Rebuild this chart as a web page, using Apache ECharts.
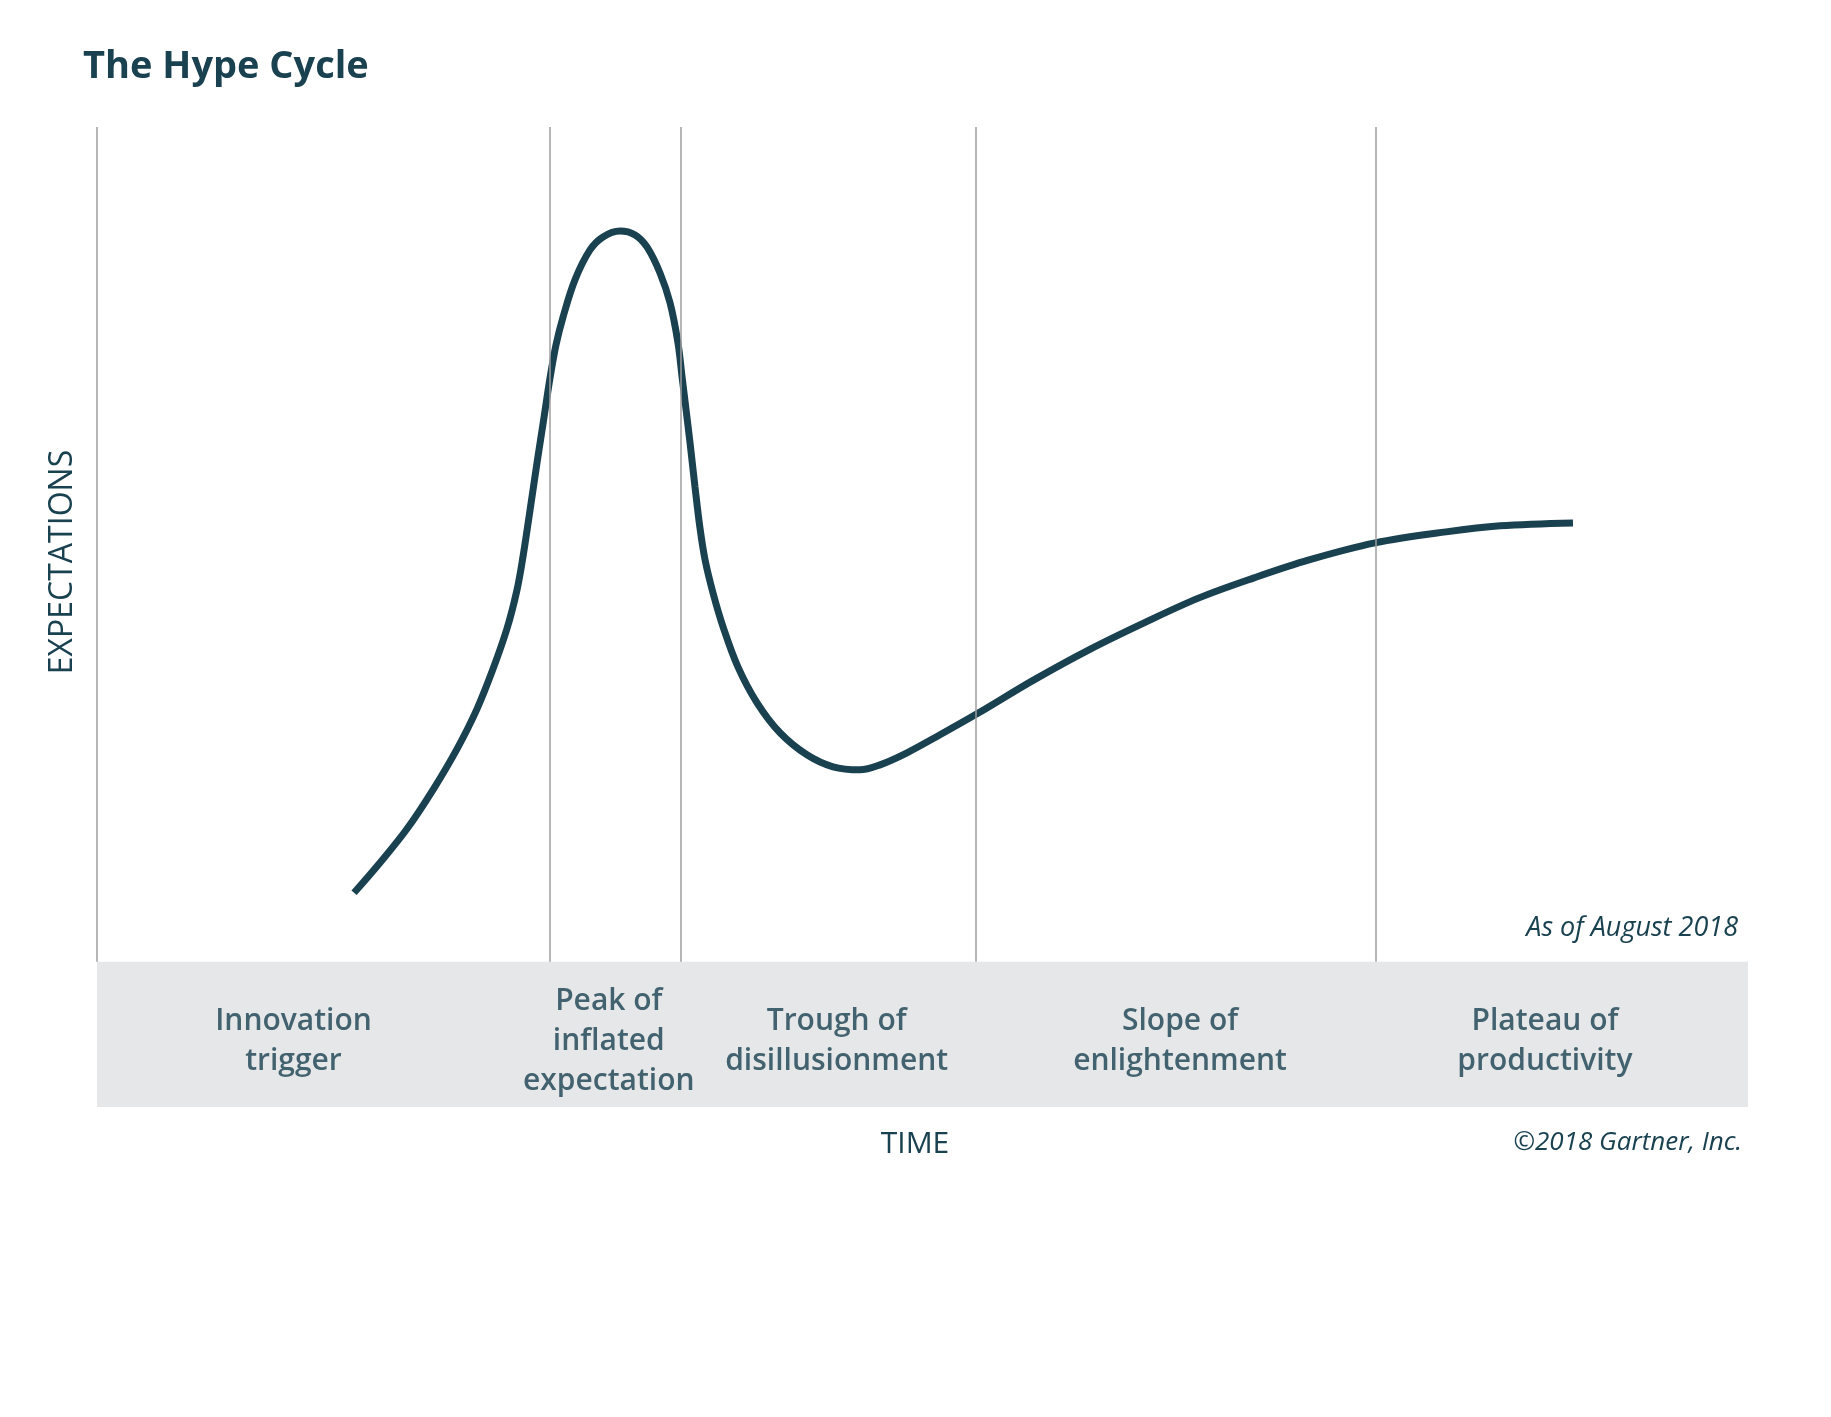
<!DOCTYPE html>
<html>
<head>
<meta charset="utf-8">
<title>The Hype Cycle</title>
<script src="https://cdn.jsdelivr.net/npm/echarts@6/dist/echarts.min.js"></script>
<style>
  html, body { margin: 0; padding: 0; background: #fff; }
  #hype_chart { width: 1831px; height: 1417px; }
</style>
</head>
<body>
<div id="hype_chart"></div>
<script>
// time runs 0..100 across the plot, expectations 0..100 from the top of the phase band up
var curveX = [15.57, 17.14, 18.78, 20.35, 21.81, 23.02, 23.99, 24.83, 25.44, 25.80,
              26.23, 26.65, 27.07, 27.44, 27.80, 28.23, 28.95, 29.86, 30.65, 31.68,
              32.59, 33.31, 34.10, 34.71, 35.19, 35.43, 35.68, 35.92, 36.22, 36.52,
              36.83, 37.31, 37.92, 38.82, 39.98, 41.37, 43.00, 44.58, 46.21, 47.43,
              49.06, 51.06, 53.30, 56.75, 60.08, 63.42, 66.75, 70.08, 73.41, 77.41,
              81.71, 84.98, 89.40];
var curveY = [8.26, 11.86, 15.93, 20.60, 25.51, 30.30, 35.09, 39.88, 44.55, 48.50,
              54.13, 59.76, 65.15, 69.94, 73.89, 77.25, 81.68, 85.27, 86.83, 87.54,
              87.07, 85.63, 82.51, 78.92, 74.13, 70.18, 66.11, 62.16, 56.89, 51.98,
              48.14, 44.19, 40.12, 35.33, 31.02, 27.43, 24.79, 23.35, 22.99, 23.59,
              25.03, 27.19, 29.70, 33.77, 37.37, 40.60, 43.59, 45.99, 48.14, 50.18,
              51.50, 52.22, 52.57];

var phaseNames = ['Innovation\ntrigger', 'Peak of\ninflated\nexpectation',
                  'Trough of\ndisillusionment', 'Slope of\nenlightenment', 'Plateau of\nproductivity'];
var phaseLabelX = [11.9, 31.0, 44.8, 65.6, 87.7];
var phaseBounds = [0, 27.44, 35.37, 53.24, 77.47];
var bandBottom = -17.4;
var labelY = -9.5;

var ink = '#1a4150';
var font = '"Open Sans", "Noto Sans", sans-serif';

var chart = echarts.init(document.getElementById('hype_chart'));

var curveData = [];
for (var i = 0; i < curveX.length; i++) curveData.push([curveX[i], curveY[i]]);

var boundLines = [];
for (var j = 0; j < phaseBounds.length; j++) {
  boundLines.push([{ coord: [phaseBounds[j], 0] }, { coord: [phaseBounds[j], 100] }]);
}

var phaseData = [];
for (var k = 0; k < phaseNames.length; k++) {
  phaseData.push({ name: phaseNames[k], value: [phaseLabelX[k], labelY] });
}

var option = {
  animation: false,
  grid: { left: 97, top: 127, width: 1651, height: 980, containLabel: false },
  xAxis: { type: 'value', min: 0, max: 100, show: false },
  yAxis: { type: 'value', min: bandBottom, max: 100, show: false },
  graphic: [
    { type: 'text', left: 83, top: 48,
      style: { text: 'The Hype Cycle', fill: ink, font: 'bold 38px ' + font } },
    { type: 'text', x: 63, y: 562, rotation: Math.PI / 2,
      style: { text: 'EXPECTATIONS', fill: ink, font: '32px ' + font, align: 'center', verticalAlign: 'middle' } },
    { type: 'text', x: 915, y: 1144,
      style: { text: 'TIME', fill: ink, font: '30px ' + font, align: 'center', verticalAlign: 'middle' } },
    { type: 'text', x: 1738, y: 928,
      style: { text: 'As of August 2018', fill: ink, font: 'italic 27px ' + font, align: 'right', verticalAlign: 'middle' } },
    { type: 'text', x: 1742, y: 1143,
      style: { text: '\u00a92018 Gartner, Inc.', fill: ink, font: 'italic 26px ' + font, align: 'right', verticalAlign: 'middle' } }
  ],
  series: [
    {
      name: 'Hype',
      type: 'line',
      data: curveData,
      smooth: 0.35,
      showSymbol: false,
      silent: true,
      z: 3,
      lineStyle: { color: ink, width: 7, cap: 'butt' },
      markArea: {
        silent: true,
        itemStyle: { color: '#e6e7e8' },
        data: [[{ coord: [0, bandBottom] }, { coord: [100, 0] }]]
      },
      markLine: {
        silent: true,
        symbol: ['none', 'none'],
        label: { show: false },
        lineStyle: { color: '#9e9e9e', width: 1.5, type: 'solid' },
        data: boundLines
      }
    },
    {
      name: 'Phases',
      type: 'scatter',
      data: phaseData,
      symbolSize: 0,
      silent: true,
      z: 4,
      label: {
        show: true,
        position: 'inside',
        formatter: '{b}',
        color: ink,
        fontFamily: font,
        fontSize: 30,
        fontWeight: 600,
        lineHeight: 40,
        align: 'center'
      }
    }
  ]
};
chart.setOption(option);
</script>
</body>
</html>
